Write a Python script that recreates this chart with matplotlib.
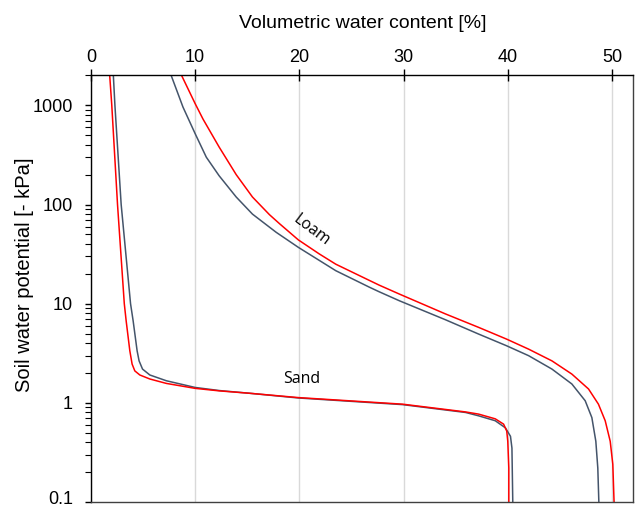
import matplotlib.pyplot as plt
from matplotlib.ticker import FixedLocator, LogLocator, NullFormatter

# water content [%] vs. suction [kPa]
sand_red_theta = [1.8, 2.0, 2.55, 3.2, 3.38, 3.73, 3.95, 4.21, 4.69, 5.65, 7.24, 10.0, 12.34, 15.2, 19.9,
                  29.9, 35.95, 37.2, 38.8, 39.6, 39.9, 40.0, 40.1, 40.1]
sand_red_h = [2000, 1000, 100, 10, 6.7, 3.35, 2.46, 2.10, 1.91, 1.74, 1.57, 1.40, 1.32, 1.25, 1.13,
              0.97, 0.81, 0.77, 0.69, 0.61, 0.52, 0.41, 0.22, 0.1]

sand_blue_theta = [2.15, 2.3, 2.9, 3.8, 4.05, 4.43, 4.62, 4.95, 5.65, 7.24, 10.0, 12.34, 15.2, 19.9,
                   29.9, 35.95, 37.2, 38.8, 39.77, 40.26, 40.4, 40.48]
sand_blue_h = [2000, 1000, 100, 10, 6.7, 3.35, 2.65, 2.19, 1.91, 1.67, 1.43, 1.33, 1.25, 1.12,
               0.96, 0.80, 0.74, 0.66, 0.56, 0.46, 0.35, 0.1]

loam_red_theta = [8.7, 10.0, 10.75, 12.3, 13.94, 15.5, 17.13, 18.1, 19.9, 21.9, 23.5, 26.7, 27.65, 29.6,
                  34.0, 37.2, 39.87, 42.0, 44.24, 46.15, 47.75, 48.7, 49.35, 49.83, 50.08, 50.2]
loam_red_h = [2000, 1040, 728, 380, 200, 119, 79, 64, 44, 31.8, 25, 17.2, 15.4, 12.5,
              7.9, 5.77, 4.4, 3.48, 2.65, 1.95, 1.38, 0.97, 0.66, 0.41, 0.24, 0.1]

loam_blue_theta = [7.7, 8.83, 10.0, 11.07, 12.3, 13.94, 15.5, 17.77, 19.9, 23.5, 26.7, 27.65, 29.6,
                   34.0, 37.2, 39.87, 42.0, 44.24, 46.15, 47.43, 48.07, 48.45, 48.64, 48.74]
loam_blue_h = [2000, 961, 518, 300, 195, 119, 80, 52.5, 37, 21.5, 14.7, 13.2, 10.7,
               6.9, 4.94, 3.77, 2.99, 2.19, 1.55, 1.05, 0.71, 0.41, 0.22, 0.1]

x_ticks = [0, 10, 20, 30, 40, 50]
y_ticks = [0.1, 1, 10, 100, 1000]
y_tick_labels = ["", "1", "10", "100", "1000"]

RED = "#FF0000"
BLUE = "#44546A"

plt.rcParams["font.family"] = ["Liberation Sans", "DejaVu Sans"]

fig = plt.figure(figsize=(6.36, 5.09), dpi=100)
ax = fig.add_axes([0.143, 0.0137, 0.852, 0.838])

ax.plot(sand_blue_theta, sand_blue_h, color=BLUE, lw=1.1)
ax.plot(sand_red_theta, sand_red_h, color=RED, lw=1.1)
ax.plot(loam_blue_theta, loam_blue_h, color=BLUE, lw=1.1)
ax.plot(loam_red_theta, loam_red_h, color=RED, lw=1.1)

ax.set_yscale("log")
ax.set_xlim(0, 52)
ax.set_ylim(0.1, 2000)

ax.xaxis.set_ticks_position("top")
ax.set_xticks(x_ticks)
ax.tick_params(axis="x", direction="inout", length=8, width=1, labelsize=13, pad=3)

ax.yaxis.set_major_locator(FixedLocator(y_ticks))
ax.set_yticklabels(y_tick_labels)
ax.yaxis.set_minor_locator(LogLocator(base=10, subs=range(2, 10)))
ax.yaxis.set_minor_formatter(NullFormatter())
ax.tick_params(axis="y", which="major", direction="out", length=4, width=1, labelsize=13, pad=9)
ax.tick_params(axis="y", which="minor", direction="out", length=4, width=0.8)

# bottom tick label nudged up a little so it stays inside the canvas
ax.annotate("0.1", xy=(0, 0.1), xycoords="data", xytext=(-13, 2), textcoords="offset points",
            ha="right", va="center", fontsize=13, annotation_clip=False)

fig.text(363 / 636, 1 - 23 / 509, "Volumetric water content [%]", fontsize=14, ha="center", va="center")
fig.text(25 / 636, 1 - 275 / 509, "Soil water potential [- kPa]", fontsize=14.5, ha="center", va="center",
         rotation=90)

ax.grid(axis="x", color="#D9D9D9", lw=1)
ax.set_axisbelow(True)
for side in ax.spines.values():
    side.set_linewidth(1)
ax.spines["bottom"].set_color("#404040")
ax.spines["right"].set_color("#404040")

ax.text(20.2, 1.73, "Sand", fontsize=11.5, family=["Open Sans", "DejaVu Sans"], ha="center", va="center")
ax.text(21.2, 55, "Loam", fontsize=11.5, family=["Open Sans", "DejaVu Sans"], ha="center", va="center", rotation=-37)

fig.savefig("out.png", dpi=100)
